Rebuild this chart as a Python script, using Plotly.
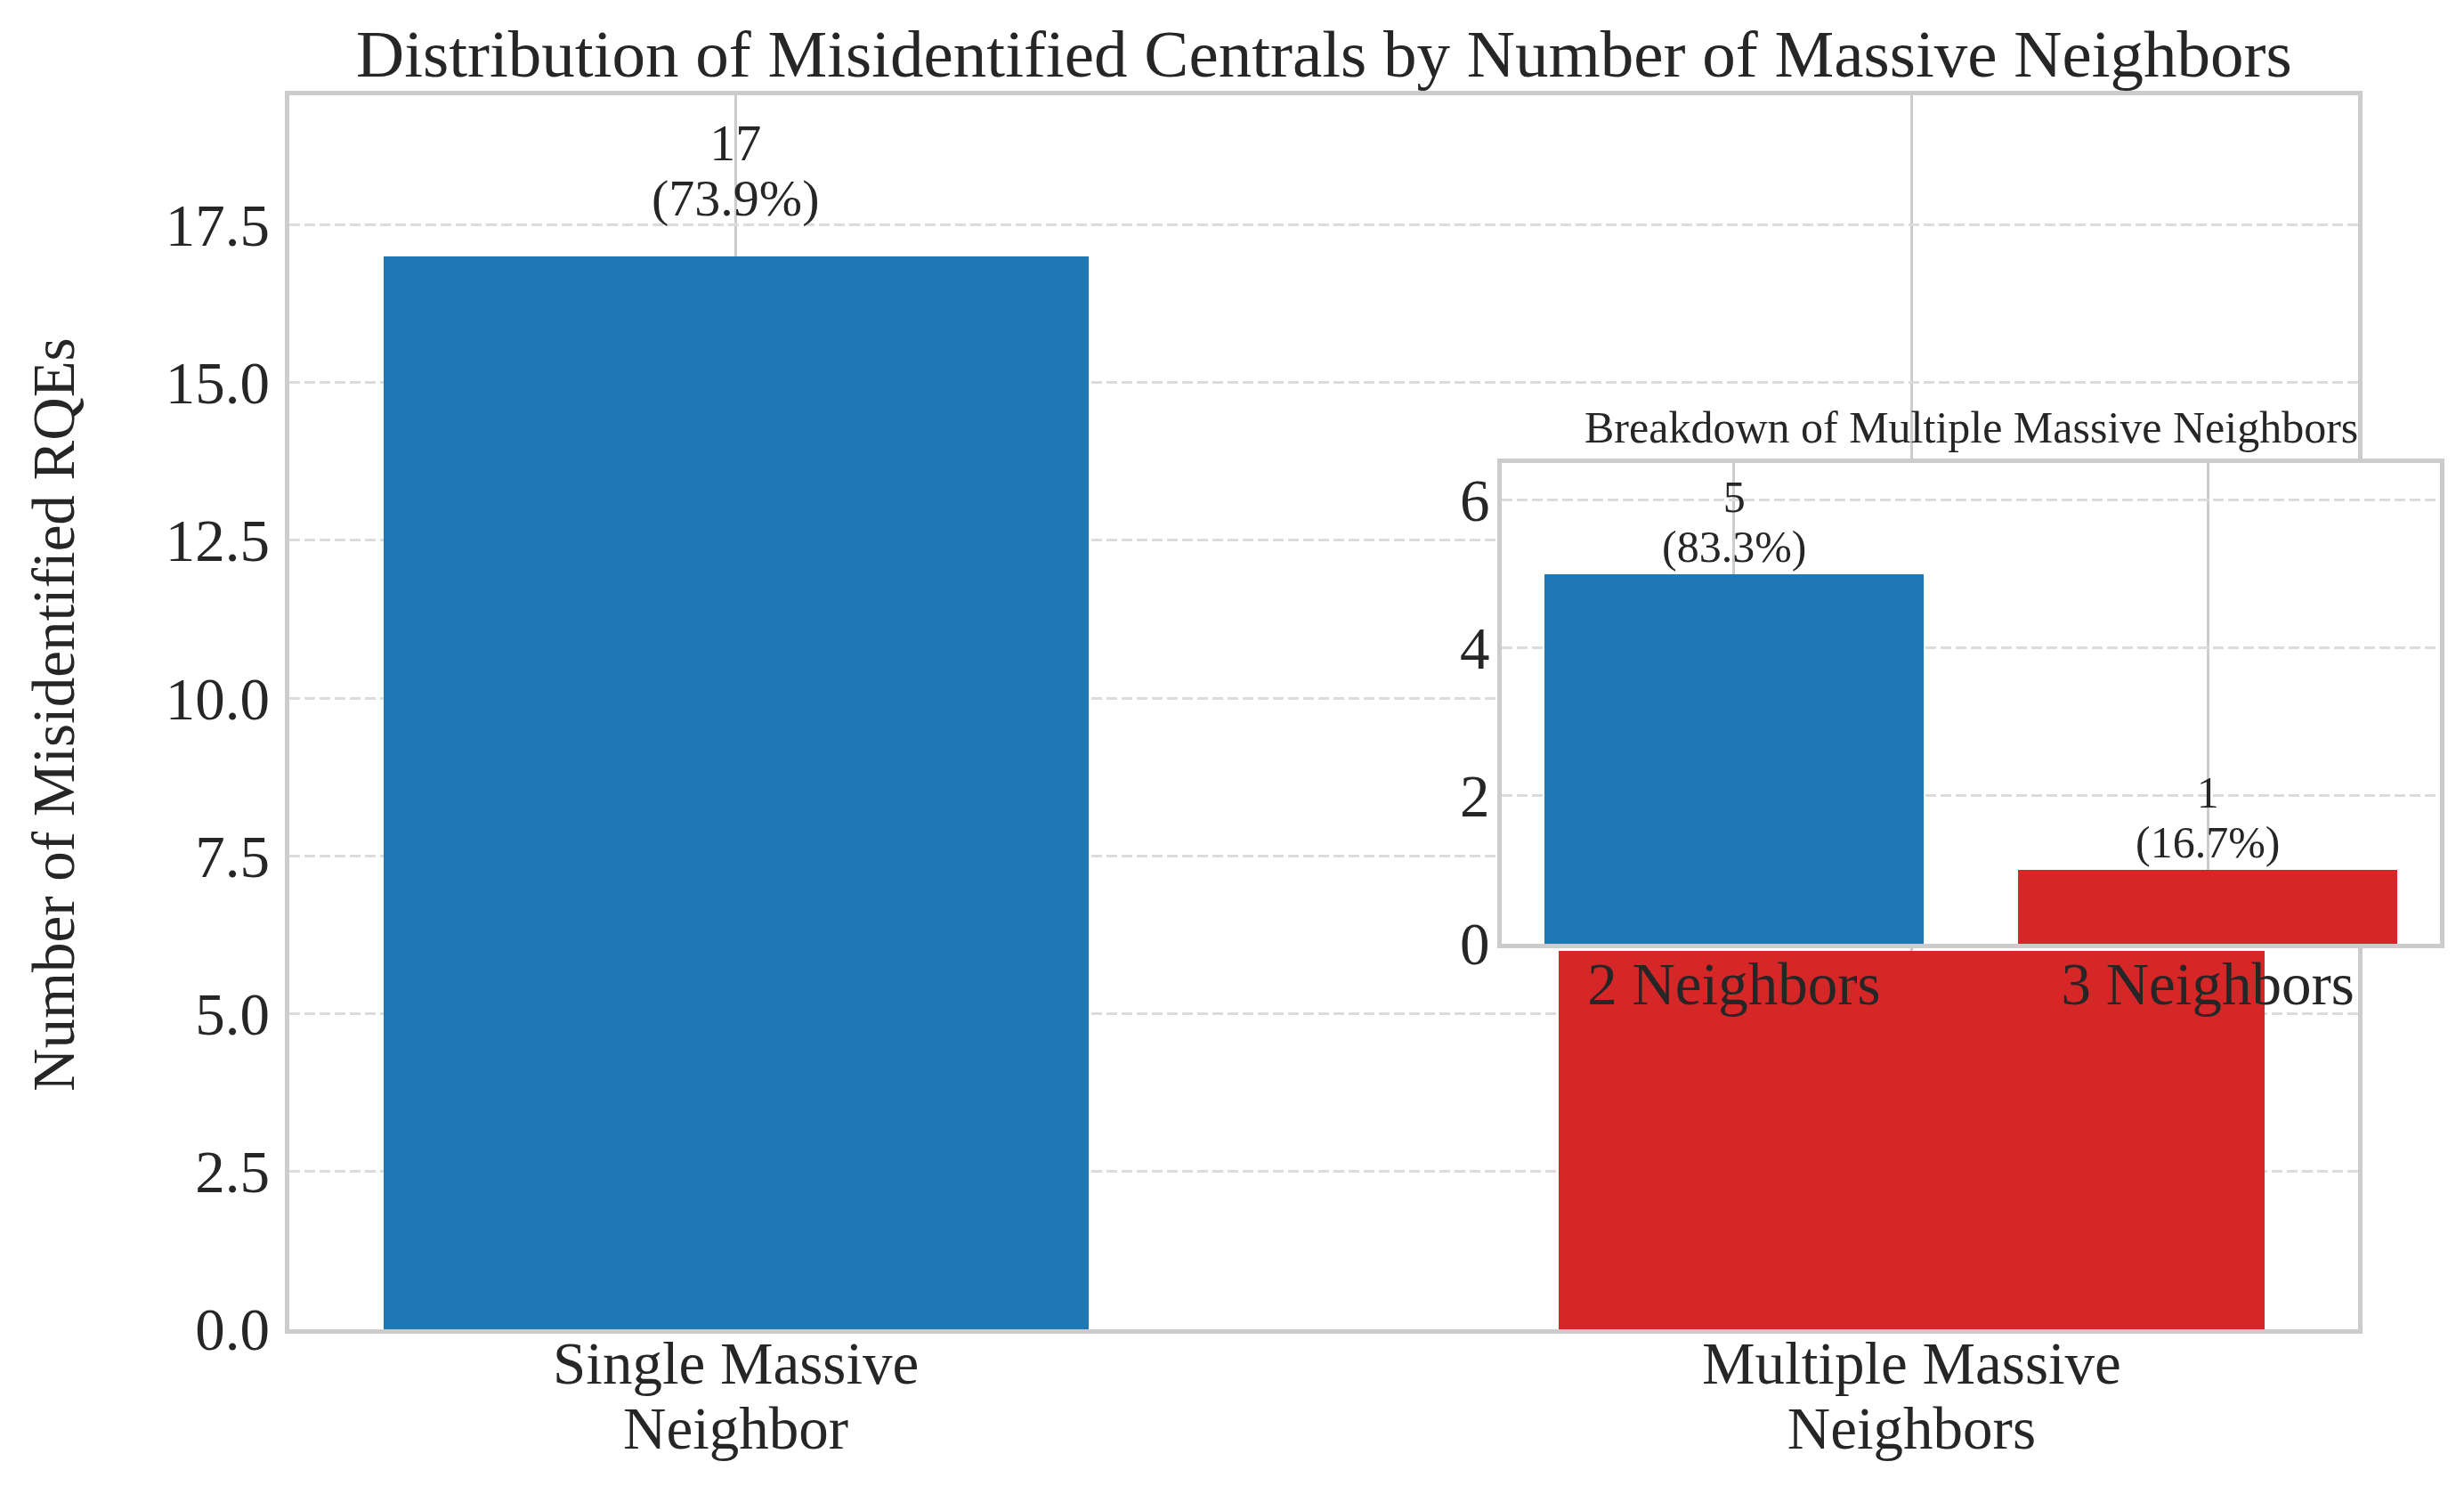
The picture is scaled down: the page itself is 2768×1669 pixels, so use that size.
import plotly.graph_objects as go

# ---------------- data ----------------
main_categories = ["Single Massive Neighbor", "Multiple Massive Neighbors"]
main_tick_lines = [["Single Massive", "Neighbor"], ["Multiple Massive", "Neighbors"]]
main_counts = [17, 6]
main_colors = ["#1f77b4", "#d62728"]

inset_categories = ["2 Neighbors", "3 Neighbors"]
inset_counts = [5, 1]
inset_colors = ["#1f77b4", "#d62728"]

main_yticks = [0.0, 2.5, 5.0, 7.5, 10.0, 12.5, 15.0, 17.5]
inset_yticks = [0, 2, 4, 6]

title_text = "Distribution of Misidentified Centrals by Number of Massive Neighbors"
ylabel_text = "Number of Misidentified RQEs"
inset_title_text = "Breakdown of Multiple Massive Neighbors"

# ---------------- layout helpers ----------------
W, H = 2768, 1669
FONT = "Liberation Serif"
TXT = "#262626"


def px_x(p):
    return p / W


def px_y(p):
    return 1 - p / H


def lines_html(lines, size):
    # glyph size set on spans; annotation font size controls the line spacing
    return "<br>".join(f'<span style="font-size:{size}px">{ln}</span>' for ln in lines)


main_total = sum(main_counts)
inset_total = sum(inset_counts)

fig = go.Figure()

fig.add_trace(go.Bar(
    x=main_categories, y=main_counts, width=0.6,
    marker=dict(color=main_colors, line=dict(width=0)),
    xaxis="x", yaxis="y", showlegend=False, hoverinfo="x+y",
))
fig.add_trace(go.Bar(
    x=inset_categories, y=inset_counts, width=0.8,
    marker=dict(color=inset_colors, line=dict(width=0)),
    xaxis="x2", yaxis="y2", showlegend=False, hoverinfo="x+y",
))

annotations = []
# title
annotations.append(dict(text=title_text, xref="paper", yref="paper",
                        x=px_x(1487), y=px_y(60), xanchor="center", yanchor="middle",
                        showarrow=False, font=dict(size=75, color=TXT, family=FONT)))
# y label
annotations.append(dict(text=ylabel_text, xref="paper", yref="paper",
                        x=px_x(60), y=px_y(803), xanchor="center", yanchor="middle",
                        textangle=-90, showarrow=False,
                        font=dict(size=67, color=TXT, family=FONT)))
# main x tick labels (two lines each)
for cat, lines in zip(main_categories, main_tick_lines):
    annotations.append(dict(text=lines_html(lines, 67), xref="x", yref="paper", x=cat,
                            y=px_y(1567), xanchor="center", yanchor="middle",
                            showarrow=False, font=dict(size=56, color=TXT, family=FONT)))
# main bar labels (the second one is hidden behind the inset in the original)
for cat, v in zip(main_categories[:1], main_counts[:1]):
    pct = f"({v / main_total * 100:.1f}%)"
    annotations.append(dict(text=lines_html([str(v), pct], 58), xref="x", yref="y",
                            x=cat, y=v, yshift=96, xanchor="center", yanchor="middle",
                            showarrow=False, font=dict(size=48, color=TXT, family=FONT)))
# inset title
annotations.append(dict(text=inset_title_text, xref="paper", yref="paper",
                        x=px_x(2214), y=px_y(480), xanchor="center", yanchor="middle",
                        showarrow=False, font=dict(size=50, color=TXT, family=FONT)))
# inset bar labels
for cat, v in zip(inset_categories, inset_counts):
    pct = f"({v / inset_total * 100:.1f}%)"
    annotations.append(dict(text=lines_html([str(v), pct], 50), xref="x2", yref="y2",
                            x=cat, y=v, yshift=59, xanchor="center", yanchor="middle",
                            showarrow=False, font=dict(size=43, color=TXT, family=FONT)))

axis_common = dict(showline=True, linecolor="#cccccc", linewidth=5, mirror=True,
                   zeroline=False, automargin=False, ticks="",
                   tickfont=dict(size=67, color=TXT, family=FONT))

fig.update_layout(
    width=W, height=H,
    margin=dict(l=0, r=0, t=0, b=0, pad=0),
    paper_bgcolor="white", plot_bgcolor="white",
    font=dict(family=FONT, color=TXT),
    showlegend=False,
    bargap=0,
    xaxis=dict(domain=[px_x(324.5), px_x(2649)], anchor="y", type="category",
               range=[-0.38, 1.38], showgrid=True, gridcolor="#cccccc", gridwidth=3.3,
               showticklabels=False, **axis_common),
    yaxis=dict(domain=[px_y(1493), px_y(107)], anchor="x", range=[0, 17 * 1.15],
               tickvals=main_yticks, ticktext=[f"{t:.1f}" for t in main_yticks],
               showgrid=True, gridcolor="#dcdcdc", gridwidth=3.3, griddash="12px,5px",
               ticklabelstandoff=3, **axis_common),
    xaxis2=dict(domain=[px_x(1687), px_x(2741)], anchor="y2", type="category",
                range=[-0.49, 1.49], showgrid=True, gridcolor="#cccccc", gridwidth=3.3,
                ticklabelstandoff=-17, **axis_common),
    yaxis2=dict(domain=[px_y(1060), px_y(520)], anchor="x2", range=[0, 6.5],
                tickvals=inset_yticks, ticktext=[str(t) for t in inset_yticks],
                showgrid=True, gridcolor="#dcdcdc", gridwidth=3.3, griddash="12px,5px",
                ticklabelstandoff=-5, **axis_common),
    annotations=annotations,
)

fig.write_html("out.html", config={"displayModeBar": False},
               post_script="document.body.style.margin='0';")
